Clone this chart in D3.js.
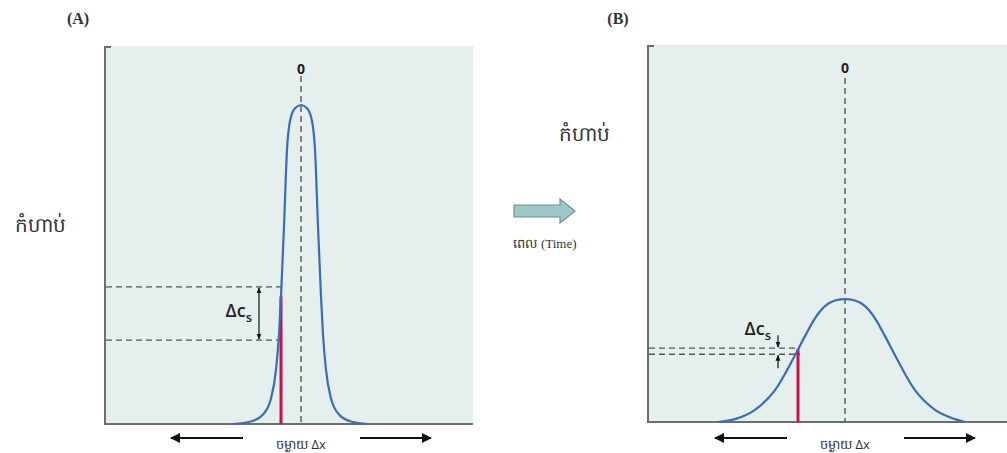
<!DOCTYPE html>
<html>
<head>
<meta charset="utf-8">
<script src="https://cdn.jsdelivr.net/npm/d3@7"></script>
<style>
body { margin:0; background:#fff; }
text { font-family: "Open Sans", "Noto Sans", sans-serif; }
</style>
</head>
<body>
<div id="chart-area"></div>
<script>
// profile: distance (x10 px from the centre), concentration (peak of A = 1)
const distA = [-6.8,-5.0,-3.8,-3.0,-2.5,-2.2,-2.0,-1.7,-1.4,-1.1,-0.6,0,0.6,1.1,1.4,1.7,2.0,2.2,2.5,3.0,3.8,5.0,6.7];
const concA = [0,0.008,0.03,0.08,0.17,0.28,0.40,0.62,0.86,0.95,0.99,1.0,0.99,0.95,0.86,0.62,0.40,0.28,0.17,0.08,0.03,0.008,0];

const distB = [-12.7,-11,-9,-7,-5,-4,-3,-2,-1,0,1,2,3,4,5,7,9,11,12];
const concB = [0,0.009,0.038,0.10,0.21,0.27,0.326,0.364,0.382,0.386,0.382,0.364,0.326,0.27,0.21,0.10,0.038,0.009,0];

// red sample line position and the two dashed levels (delta c_s)
const sampleX = [-2.0, -4.7];
const levelsA = [0.43, 0.263];
const levelsB = [0.232, 0.213];

const panelLabels = ["(A)", "(B)"];
const yLabel = "កំហាប់";
const xLabel = "ចម្ងាយ Δx";
const timeLabel = "ពេល";

const W = 1007, H = 453;
const svg = d3.select("#chart-area").append("svg")
  .attr("width", W).attr("height", H);

const defs = svg.append("defs");
defs.append("marker").attr("id","head")
  .attr("viewBox","0 0 10 10").attr("refX",9).attr("refY",5)
  .attr("markerWidth",5).attr("markerHeight",5).attr("orient","auto-start-reverse")
  .append("path").attr("d","M0,0 L10,5 L0,10 z").attr("fill","#111");
defs.append("marker").attr("id","small")
  .attr("viewBox","0 0 10 10").attr("refX",9).attr("refY",5)
  .attr("markerWidth",5).attr("markerHeight",5).attr("orient","auto-start-reverse")
  .append("path").attr("d","M0,1 L10,5 L0,9 z").attr("fill","#111");

const panels = [
  {left:104, right:473, top:46, bottom:424, xmin:-19.7, xmax:17.2, dist:distA, conc:concA, levels:levelsA, sx:sampleX[0], lab:panelLabels[0], labX:78, ylabX:40, ylabY:232},
  {left:647, right:1007, top:45, bottom:422, xmin:-19.8, xmax:16.2, dist:distB, conc:concB, levels:levelsB, sx:sampleX[1], lab:panelLabels[1], labX:618, ylabX:584, ylabY:141}
];

panels.forEach((p, i) => {
  const x = d3.scaleLinear().domain([p.xmin, p.xmax]).range([p.left, p.right]);
  const y = d3.scaleLinear().domain([0, 1.185]).range([p.bottom, p.top]);
  const g = svg.append("g");

  g.append("rect").attr("x", p.left).attr("y", p.top)
    .attr("width", p.right - p.left).attr("height", p.bottom - p.top)
    .attr("fill", "#e5efee");

  // axes frame: left + bottom with small tick at top
  g.append("path")
    .attr("d", `M${p.left+7},${p.top+1} H${p.left+1} V${p.bottom} H${p.right}`)
    .attr("fill","none").attr("stroke","#6d6d6d").attr("stroke-width",2);

  // centre dashed line
  g.append("line").attr("x1", x(0)).attr("x2", x(0))
    .attr("y1", p.top + (i ? 33 : 30)).attr("y2", p.bottom)
    .attr("stroke","#555").attr("stroke-width",1.4).attr("stroke-dasharray","6,4");
  g.append("text").attr("x", x(0)).attr("y", p.top + 28)
    .attr("text-anchor","middle").attr("font-size",14).attr("font-weight","bold")
    .attr("fill","#222").text("0");

  const pts = p.dist.map((d, k) => [d, p.conc[k]]);
  const line = d3.line().x(d => x(d[0])).y(d => y(d[1])).curve(d3.curveMonotoneX);

  // sample value on curve at red position
  const bis = d3.bisector(d => d[0]).left;
  const k = bis(pts, p.sx);
  const a = pts[k-1], b = pts[k];
  const sc = a[1] + (b[1]-a[1]) * (p.sx - a[0]) / (b[0]-a[0]);

  // dashed levels
  p.levels.forEach(l => {
    g.append("line").attr("x1", p.left + 2).attr("x2", x(p.sx) + 2)
      .attr("y1", y(l)).attr("y2", y(l))
      .attr("stroke","#555").attr("stroke-width",1.3).attr("stroke-dasharray","6,4");
  });

  g.append("line").attr("x1", x(p.sx)).attr("x2", x(p.sx))
    .attr("y1", y(sc)).attr("y2", p.bottom)
    .attr("stroke","#c3124a").attr("stroke-width",3);

  g.append("path").datum(pts).attr("d", line)
    .attr("fill","none").attr("stroke","#3b6db3").attr("stroke-width",2.2);

  // delta c_s markers
  const ax = x(p.sx) - (i ? 20 : 22);
  let ty;
  if (i === 0) {
    g.append("line").attr("x1", ax).attr("x2", ax)
      .attr("y1", y(p.levels[0]) + 1).attr("y2", y(p.levels[1]) - 1)
      .attr("stroke","#111").attr("stroke-width",1.2)
      .attr("marker-start","url(#small)").attr("marker-end","url(#small)");
    ty = (y(p.levels[0]) + y(p.levels[1]))/2 + 4;
  } else {
    g.append("line").attr("x1", ax).attr("x2", ax)
      .attr("y1", y(p.levels[0]) - 13).attr("y2", y(p.levels[0]) - 1)
      .attr("stroke","#111").attr("stroke-width",1.2).attr("marker-end","url(#small)");
    g.append("line").attr("x1", ax).attr("x2", ax)
      .attr("y1", y(p.levels[1]) + 14).attr("y2", y(p.levels[1]) + 1)
      .attr("stroke","#111").attr("stroke-width",1.2).attr("marker-end","url(#small)");
    ty = y(p.levels[0]) - 13;
  }
  const t = g.append("text").attr("x", ax - 7).attr("y", ty)
    .attr("text-anchor","end").attr("font-size",18).attr("font-weight",600).attr("fill","#222");
  t.append("tspan").text("Δc");
  t.append("tspan").attr("font-size",13).attr("dy",5).text("s");

  // bottom distance arrows
  const cx = x(0);
  g.append("line").attr("x1", cx - 58).attr("x2", cx - 130).attr("y1", 438).attr("y2", 438)
    .attr("stroke","#111").attr("stroke-width",2).attr("marker-end","url(#head)");
  g.append("line").attr("x1", cx + 59).attr("x2", cx + 130).attr("y1", 438).attr("y2", 438)
    .attr("stroke","#111").attr("stroke-width",2).attr("marker-end","url(#head)");
  g.append("text").attr("x", cx).attr("y", 449).attr("text-anchor","middle")
    .attr("font-size",13).attr("fill","#333").text(xLabel);

  svg.append("text").attr("x", p.labX).attr("y", 24).attr("text-anchor","middle")
    .style("font-family","'Liberation Serif', serif").attr("font-weight","bold")
    .attr("font-size",16).attr("fill","#333").text(p.lab);

  svg.append("text").attr("x", p.ylabX).attr("y", p.ylabY).attr("text-anchor","middle")
    .attr("font-size",20).attr("fill","#333").text(yLabel);
});

// time arrow between the panels
svg.append("path")
  .attr("d","M514,205 H560 V199 L575,211 L560,223 V217 H514 Z")
  .attr("fill","#9ec9c9").attr("stroke","#6f8f8f").attr("stroke-width",1.2);
const tt = svg.append("text").attr("x", 545).attr("y", 248).attr("text-anchor","middle")
  .attr("font-size",13).attr("fill","#333");
tt.append("tspan").text(timeLabel + " ");
tt.append("tspan").style("font-family","'Liberation Serif', serif").attr("font-size",13).text("(Time)");
</script>
</body>
</html>
